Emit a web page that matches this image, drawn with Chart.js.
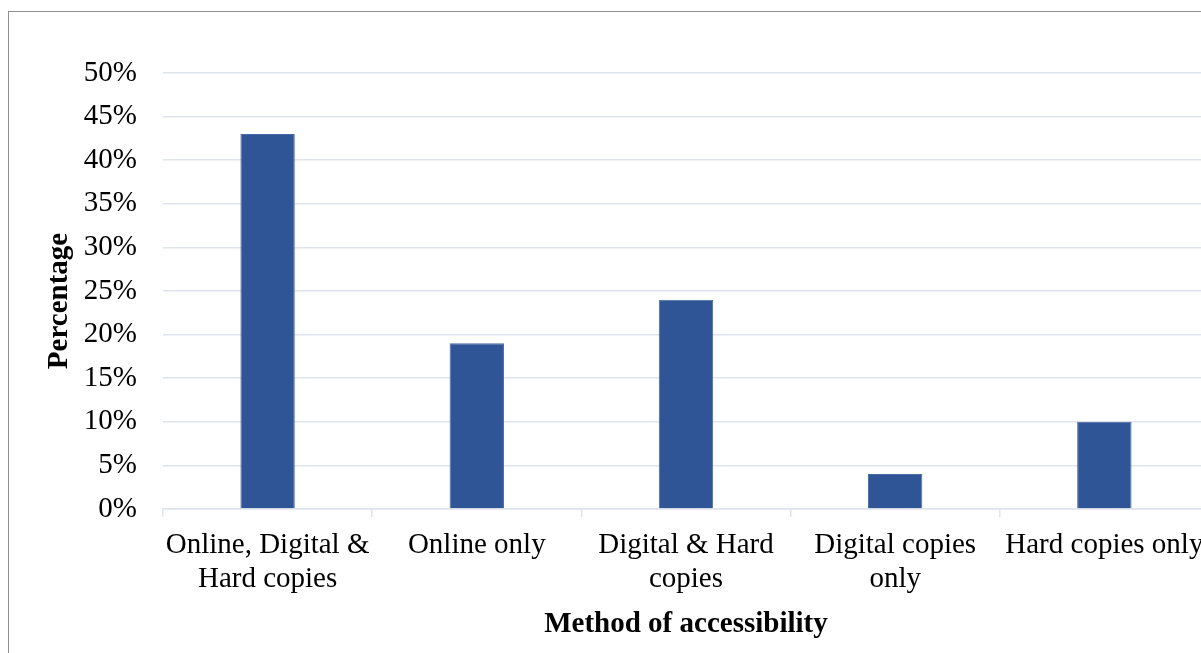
<!DOCTYPE html>
<html>
<head>
<meta charset="utf-8">
<script src="https://cdn.jsdelivr.net/npm/chart.js@4/dist/chart.umd.min.js"></script>
<style>
  html, body { margin: 0; padding: 0; background: #fff; overflow: hidden; }
  #frame { position: absolute; left: 8px; top: 11px; width: 1400px; height: 800px; border: 1px solid #8f8f8f; }
  #wrap { position: absolute; left: 0; top: 0; width: 1216px; height: 653px; }
</style>
</head>
<body>
<div id="frame"></div>
<div id="wrap"><canvas id="mainChart" width="1216" height="653"></canvas></div>
<script>
const categories = [
    ['Online, Digital &', 'Hard copies'],
    'Online only',
    ['Digital & Hard', 'copies'],
    ['Digital copies', 'only'],
    'Hard copies only'
];
const percentages = [43, 19, 24, 4, 10];
const yTicks = [0, 5, 10, 15, 20, 25, 30, 35, 40, 45, 50];

const serif = '"Liberation Serif", "Times New Roman", serif';
const gridColor = '#dfe4ec';

// y axis title, drawn by hand so it sits a little below the plot's midline
const yTitle = {
    id: 'yTitle',
    afterDraw(chart) {
        const { ctx, chartArea } = chart;
        ctx.save();
        ctx.translate(60, (chartArea.top + chartArea.bottom) / 2 + 10);
        ctx.rotate(-Math.PI / 2);
        ctx.font = 'bold 29px ' + serif;
        ctx.fillStyle = '#000';
        ctx.textAlign = 'center';
        ctx.textBaseline = 'middle';
        ctx.fillText('Percentage', 0, 0);
        ctx.restore();
    }
};

const ctx = document.getElementById('mainChart').getContext('2d');
const accessChart = new Chart(ctx, {
    type: 'bar',
    data: {
        labels: categories,
        datasets: [{
            label: 'Percentage',
            data: percentages,
            backgroundColor: '#2f5596',
            borderColor: '#4a6ba6',
            borderWidth: 1,
            categoryPercentage: 0.26,
            barPercentage: 1.0
        }]
    },
    options: {
        responsive: false,
        animation: false,
        layout: { padding: { top: 73, right: 6, bottom: 0, left: 0 } },
        plugins: {
            legend: { display: false },
            tooltip: { enabled: false }
        },
        scales: {
            x: {
                afterFit: (scale) => { scale.height = 144; },
                grid: {
                    drawOnChartArea: false,
                    drawTicks: true,
                    tickLength: 8,
                    color: gridColor,
                    lineWidth: 1.5
                },
                border: { display: true, color: gridColor, width: 1.5 },
                ticks: {
                    color: '#000',
                    font: { family: serif, size: 29, lineHeight: 1.15 },
                    padding: 12,
                    maxRotation: 0,
                    autoSkip: false
                },
                title: {
                    display: true,
                    text: 'Method of accessibility',
                    color: '#000',
                    font: { family: serif, size: 29, weight: 'bold' },
                    padding: { top: 0, bottom: 11 }
                }
            },
            y: {
                min: 0,
                max: 50,
                afterFit: (scale) => { scale.width = 163; },
                afterBuildTicks: (scale) => {
                    scale.ticks = yTicks.map(v => ({ value: v }));
                },
                grid: {
                    drawTicks: false,
                    color: gridColor,
                    lineWidth: 1.5
                },
                border: { display: false },
                ticks: {
                    color: '#000',
                    font: { family: serif, size: 29 },
                    padding: 26,
                    callback: (v) => v + '%'
                }
            }
        }
    },
    plugins: [yTitle]
});
</script>
</body>
</html>
